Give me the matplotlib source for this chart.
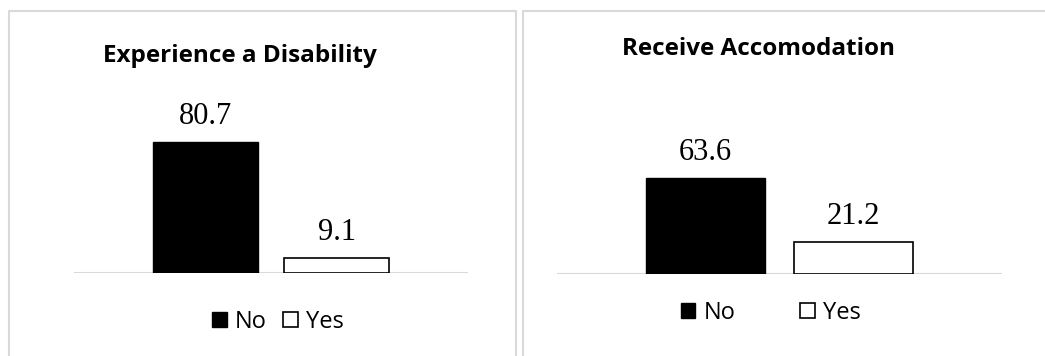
import matplotlib
matplotlib.use("Agg")
import matplotlib.pyplot as plt
from matplotlib.patches import Patch
from matplotlib.lines import Line2D

categories = ["No", "Yes"]
titles = ["Experience a Disability", "Receive Accomodation"]
disability = [80.7, 9.1]
accommodation = [63.6, 21.2]
series = [disability, accommodation]

W, H = 1045, 356
fig = plt.figure(figsize=(W / 100, H / 100), dpi=100)

def fx(px):
    return px / W

def fy(py):
    return 1 - py / H

GRAY = "#d9d9d9"
# panel borders
fig.add_artist(Line2D([fx(9), fx(9), fx(516), fx(516)], [0, fy(11), fy(11), 0],
                      color=GRAY, lw=1.5, transform=fig.transFigure))
fig.add_artist(Line2D([fx(523), fx(523), 1.0], [0, fy(11), fy(11)],
                      color=GRAY, lw=1.5, transform=fig.transFigure))

layout = [
    dict(x0=74, x1=468, base=273, ppu=1.62, title_x=240, title_y=62,
         leg_x=278, leg_y=322, colsp=0.7),
    dict(x0=557, x1=1002, base=274, ppu=1.51, title_x=759, title_y=55,
         leg_x=771, leg_y=313, colsp=2.75),
]

LEG_FS = 17
for vals, title, L in zip(series, titles, layout):
    height_px = 100 * L["ppu"]
    ax = fig.add_axes([fx(L["x0"]), fy(L["base"]), fx(L["x1"] - L["x0"]), height_px / H])
    xs = list(range(len(categories)))
    ax.bar(xs[0], vals[0], width=0.8, color="black", edgecolor="black", linewidth=1)
    ax.bar(xs[1], vals[1], width=0.8, color="white", edgecolor="black", linewidth=1.2)
    ax.set_xlim(-1, 2)
    ax.set_ylim(0, 100)
    ax.axis("off")
    ax.axhline(0, color=GRAY, lw=1.5, zorder=0)
    for x, v in zip(xs, vals):
        ax.annotate(f"{v:.1f}", (x, v), xytext=(0, 12.8), textcoords="offset points",
                    ha="center", va="baseline", fontsize=22, family="Liberation Serif")
    fig.text(fx(L["title_x"]), fy(L["title_y"]), title, ha="center", va="baseline",
             fontsize=17.5, fontweight="bold", family="Open Sans")
    handles = [Patch(facecolor="black", edgecolor="black", lw=1),
               Patch(facecolor="white", edgecolor="black", lw=1.2)]
    fig.legend(handles, categories, loc="center",
               bbox_to_anchor=(fx(L["leg_x"]), fy(L["leg_y"])),
               ncol=2, frameon=False, borderpad=0, borderaxespad=0,
               handlelength=0.62, handleheight=0.62, handletextpad=0.35,
               columnspacing=L["colsp"],
               prop=dict(family="Open Sans", size=LEG_FS))

fig.savefig("out.png", dpi=100)
